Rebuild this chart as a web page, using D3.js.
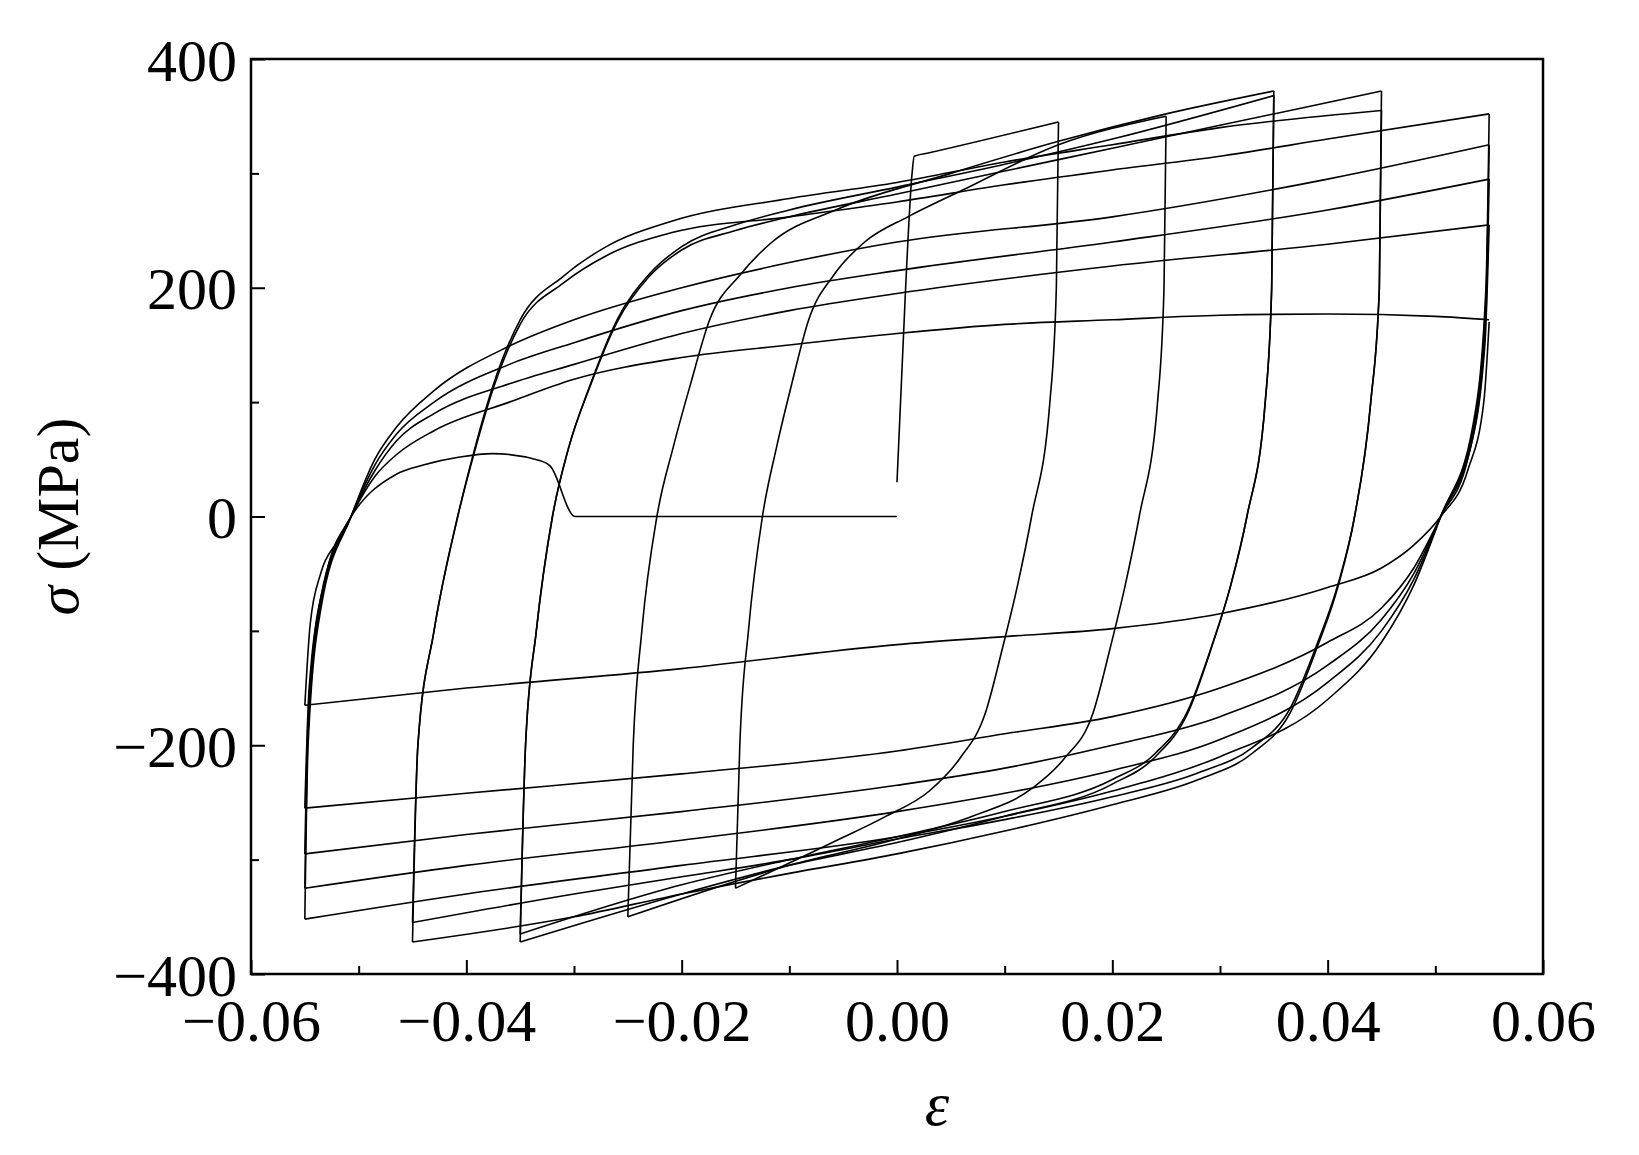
<!DOCTYPE html>
<html>
<head>
<meta charset="utf-8">
<script src="https://cdn.jsdelivr.net/npm/d3@7"></script>
<style>
body{margin:0;background:#fff;}
text{font-family:"Liberation Serif","DejaVu Serif",serif;fill:#000;}
</style>
</head>
<body>
<div id="viz-container"></div>
<script>
let width = 1639, height = 1155;
let margin = {left:251, right:1639-1543, top:59, bottom:1155-974};

let xTicks = [-0.06,-0.04,-0.02,0,0.02,0.04,0.06];
let yTicks = [-400,-200,0,200,400];

// loading branches, [strain, stress]
let initialLoad = [[0,30],[0.0008,200],[0.0014,300],[0.0016,315],[0.003,318],[0.015,345]];
let up1 = [[-0.015,-325],[-0.0146,-200],[-0.0138,-100],[-0.0125,0],[-0.0112,60],[-0.0098,115],[-0.0082,172],[-0.0058,212],[-0.003,240],[0.001,262],[0.006,285],[0.015,325],[0.025,350]];
let up2 = [[-0.025,-350],[-0.0245,-200],[-0.0237,-100],[-0.0223,0],[-0.0208,60],[-0.0192,115],[-0.0174,172],[-0.0145,212],[-0.0116,240],[-0.0057,268],[0.005,300],[0.015,328],[0.025,352],[0.035,372]];
let up3 = [[-0.035,-372],[-0.0345,-200],[-0.0335,-100],[-0.032,0],[-0.0305,60],[-0.0285,115],[-0.026,172],[-0.023,212],[-0.02,236],[-0.015,255],[-0.01,268],[0,288],[0.01,308],[0.02,330],[0.035,368]];
let up4 = [[-0.035,-365],[-0.0345,-200],[-0.0335,-100],[-0.032,0],[-0.0305,60],[-0.0285,114],[-0.026,170],[-0.023,210],[-0.02,233],[-0.015,250],[-0.01,262],[0,282],[0.01,302],[0.02,322],[0.03,342],[0.045,372]];
let up5 = [[-0.045,-372],[-0.0445,-200],[-0.043,-100],[-0.0408,0],[-0.0392,60],[-0.0375,115],[-0.035,172],[-0.031,210],[-0.027,236],[-0.021,258],[-0.01,278],[0,292],[0.01,310],[0.02,325],[0.03,340],[0.045,355]];
let up6 = [[-0.045,-355],[-0.0445,-200],[-0.043,-100],[-0.0408,0],[-0.0392,58],[-0.0375,112],[-0.035,168],[-0.031,204],[-0.027,228],[-0.021,248],[-0.01,262],[0,275],[0.01,290],[0.02,303],[0.03,315],[0.04,330],[0.055,352]];
let up7 = [[-0.055,-352],[-0.0547,-200],[-0.0535,-80],[-0.0507,0],[-0.0485,50],[-0.0465,78],[-0.043,110],[-0.036,149],[-0.03,172],[-0.02,200],[-0.01,222],[0,240],[0.02,262],[0.04,295],[0.055,325]];
let up8 = [[-0.055,-325],[-0.0547,-190],[-0.0535,-75],[-0.0507,0],[-0.0485,45],[-0.0465,72],[-0.043,100],[-0.036,133],[-0.03,152],[-0.02,180],[-0.01,200],[0,215],[0.02,240],[0.04,268],[0.055,295]];
let up9 = [[-0.055,-295],[-0.0547,-180],[-0.0535,-70],[-0.0507,0],[-0.0485,40],[-0.0465,66],[-0.043,90],[-0.036,116],[-0.03,133],[-0.02,160],[-0.01,180],[0,195],[0.02,219],[0.04,238],[0.055,255]];
let up10 = [[-0.055,-255],[-0.0546,-150],[-0.053,-50],[-0.0507,0],[-0.0485,35],[-0.0465,54],[-0.043,75],[-0.036,100],[-0.03,120],[-0.02,139],[-0.01,150],[0,160],[0.01,168],[0.02,172],[0.03,176],[0.04,177],[0.05,175],[0.055,172]];
let finalLoad = [[-0.055,-165],[-0.0545,-94],[-0.0535,-49],[-0.052,-22],[-0.0507,0],[-0.0465,37],[-0.044,45],[-0.0406,52],[-0.0376,55],[-0.0332,49],[-0.0322,44],[-0.0299,0],[0,0]];

// unloading branches
let down1 = [[0.015,345],[0.0148,200],[0.0142,100],[0.0125,0],[0.0112,-60],[0.0098,-115],[0.0082,-172],[0.0058,-212],[0.003,-240],[-0.001,-262],[-0.006,-285],[-0.015,-325]];
let down2 = [[0.025,350],[0.0248,200],[0.0242,100],[0.0225,0],[0.0212,-60],[0.0198,-115],[0.0182,-172],[0.0155,-212],[0.0125,-238],[0.007,-262],[0,-282],[-0.01,-305],[-0.025,-350]];
let down3 = [[0.035,372],[0.0348,200],[0.0342,100],[0.0325,0],[0.031,-60],[0.0292,-115],[0.027,-172],[0.024,-210],[0.02,-234],[0.01,-262],[0,-285],[-0.01,-305],[-0.02,-330],[-0.035,-372]];
let down4 = [[0.035,368],[0.0348,200],[0.0342,100],[0.0325,0],[0.031,-60],[0.0292,-114],[0.027,-170],[0.024,-207],[0.02,-230],[0.01,-258],[0,-280],[-0.01,-300],[-0.02,-322],[-0.035,-365]];
let down5 = [[0.045,372],[0.0448,200],[0.044,100],[0.0425,0],[0.041,-60],[0.039,-115],[0.0365,-172],[0.033,-207],[0.028,-230],[0.02,-252],[0.01,-275],[0,-295],[-0.01,-312],[-0.02,-330],[-0.03,-350],[-0.045,-372]];
let down6 = [[0.045,355],[0.0448,200],[0.044,100],[0.0425,0],[0.041,-58],[0.039,-112],[0.0365,-168],[0.033,-202],[0.028,-224],[0.02,-245],[0.01,-265],[0,-282],[-0.01,-300],[-0.02,-315],[-0.03,-330],[-0.045,-355]];
let down7 = [[0.055,352],[0.0547,200],[0.0535,80],[0.0505,0],[0.048,-60],[0.045,-110],[0.04,-160],[0.03,-210],[0.02,-240],[0.01,-262],[0,-280],[-0.02,-305],[-0.04,-330],[-0.055,-352]];
let down8 = [[0.055,325],[0.0547,190],[0.0535,75],[0.0505,0],[0.048,-55],[0.045,-100],[0.04,-145],[0.03,-195],[0.02,-222],[0.01,-242],[0,-258],[-0.02,-283],[-0.04,-305],[-0.055,-325]];
let down9 = [[0.055,295],[0.0547,180],[0.0535,70],[0.0505,0],[0.048,-50],[0.045,-90],[0.04,-130],[0.03,-175],[0.02,-200],[0.01,-220],[0,-235],[-0.02,-258],[-0.04,-278],[-0.055,-295]];
let down10 = [[0.055,255],[0.0546,150],[0.053,50],[0.0505,0],[0.048,-45],[0.045,-80],[0.04,-110],[0.03,-150],[0.02,-175],[0.01,-190],[0,-205],[-0.02,-225],[-0.04,-242],[-0.055,-255]];
let down11 = [[0.055,170],[0.0545,100],[0.053,40],[0.0505,0],[0.048,-25],[0.045,-45],[0.04,-62],[0.03,-85],[0.02,-98],[0.01,-105],[0,-112],[-0.02,-133],[-0.04,-150],[-0.055,-165]];

let branches = [initialLoad,down1,up1,down2,up2,down3,up3,down4,up4,down5,up5,down6,up6,
  down7,up7,down8,up8,down9,up9,down10,up10,down11,finalLoad];

let viz = d3.select('#viz-container').append('svg')
  .attr('width',width).attr('height',height);

let x = d3.scaleLinear().domain([-0.06,0.06]).range([margin.left,width-margin.right]);
let y = d3.scaleLinear().domain([-400,400]).range([height-margin.bottom,margin.top]);

let line = d3.line()
  .x(d=>x(d[0])).y(d=>y(d[1]))
  .curve(d3.curveMonotoneX);

viz.append('g').selectAll('path').data(branches).enter()
  .append('path')
  .attr('d',d=>line(d.slice().sort((a,b)=>a[0]-b[0])))
  .attr('fill','none')
  .attr('stroke','#000')
  .attr('stroke-width',1.6)
  .attr('stroke-linejoin','round');

// ticks, inward
let xAxis = d3.axisBottom(x).tickValues(xTicks).tickSize(-14).tickPadding(24).tickFormat(d3.format('.2f'));
let yAxis = d3.axisLeft(y).tickValues(yTicks).tickSize(-14).tickPadding(14).tickFormat(d3.format('d'));
let xMinor = d3.axisBottom(x).tickValues(d3.range(-0.05,0.06,0.02)).tickSize(-8).tickFormat('');
let yMinor = d3.axisLeft(y).tickValues([-300,-100,100,300]).tickSize(-8).tickFormat('');

let gx = viz.append('g').attr('transform','translate(0,'+y(-400)+')').call(xAxis);
viz.append('g').attr('transform','translate(0,'+y(-400)+')').call(xMinor);
let gy = viz.append('g').attr('transform','translate('+x(-0.06)+',0)').call(yAxis);
viz.append('g').attr('transform','translate('+x(-0.06)+',0)').call(yMinor);

viz.selectAll('.domain').remove();
viz.selectAll('.tick line').attr('stroke','#000').attr('stroke-width',2);
gx.selectAll('text').attr('font-size',60).attr('dy','0.71em');
gy.selectAll('text').attr('font-size',60).attr('dy','0.35em');

viz.append('rect')
  .attr('x',x(-0.06)).attr('y',y(400))
  .attr('width',x(0.06)-x(-0.06)).attr('height',y(-400)-y(400))
  .attr('fill','none').attr('stroke','#000').attr('stroke-width',2.5);

viz.append('text')
  .attr('x',x(0)+40).attr('y',1125)
  .attr('text-anchor','middle').attr('font-size',62).attr('font-style','italic')
  .text('ε');

viz.append('text')
  .attr('transform','translate(78,'+y(0)+') rotate(-90)')
  .attr('text-anchor','middle').attr('font-size',60)
  .html('<tspan font-style="italic">σ</tspan>  (MPa)');
</script>
</body>
</html>
